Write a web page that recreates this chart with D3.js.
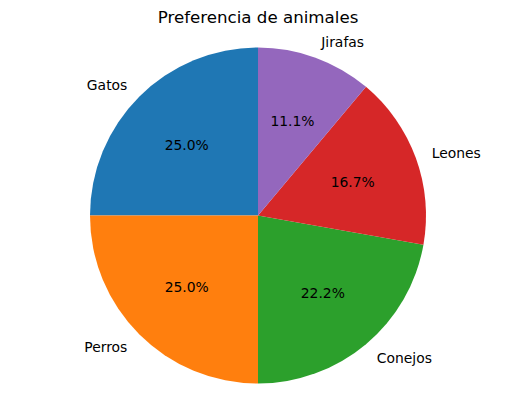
<!DOCTYPE html>
<html><head><meta charset="utf-8">
<script src="https://cdn.jsdelivr.net/npm/d3@7"></script>
<style>body{margin:0;background:#fff}svg{display:block}text{font-family:"DejaVu Sans",sans-serif}</style>
</head><body>
<script>
const categories = ["Gatos","Perros","Conejos","Leones","Jirafas"];
const values = [9,9,8,6,4];
const colors = ["#1f77b4","#ff7f0e","#2ca02c","#d62728","#9467bd"];
const title = "Preferencia de animales";

const W=515,H=411,cx=258,cy=215.5,R=168;
const svg=d3.select("body").append("svg").attr("width",W).attr("height",H);
svg.append("text").attr("x",cx).attr("y",23).attr("text-anchor","middle")
  .attr("font-size","16.67px").text(title);
const data=categories.map((c,i)=>({c,v:values[i],col:colors[i]}));
const pie=d3.pie().value(d=>d.v).sort(null).startAngle(0).endAngle(-2*Math.PI);
const arcs=pie(data);
const arc=d3.arc().innerRadius(0).outerRadius(R);
const total=d3.sum(values);
const g=svg.append("g").attr("transform",`translate(${cx},${cy})`);
g.selectAll("path").data(arcs).join("path").attr("d",arc).attr("fill",d=>d.data.col);
arcs.forEach(d=>{
  const a=(d.startAngle+d.endAngle)/2;
  const lx=Math.sin(a)*R*1.1, ly=-Math.cos(a)*R*1.1;
  g.append("text").attr("x",lx).attr("y",ly).attr("dy","0.4em")
   .attr("text-anchor",lx>0?"start":"end").attr("font-size","13.9px").text(d.data.c);
  const px=Math.sin(a)*R*0.6, py=-Math.cos(a)*R*0.6;
  g.append("text").attr("x",px).attr("y",py).attr("dy","0.4em")
   .attr("text-anchor","middle").attr("font-size","13.9px")
   .text((d.data.v/total*100).toFixed(1)+"%");
});
</script>
</body></html>
